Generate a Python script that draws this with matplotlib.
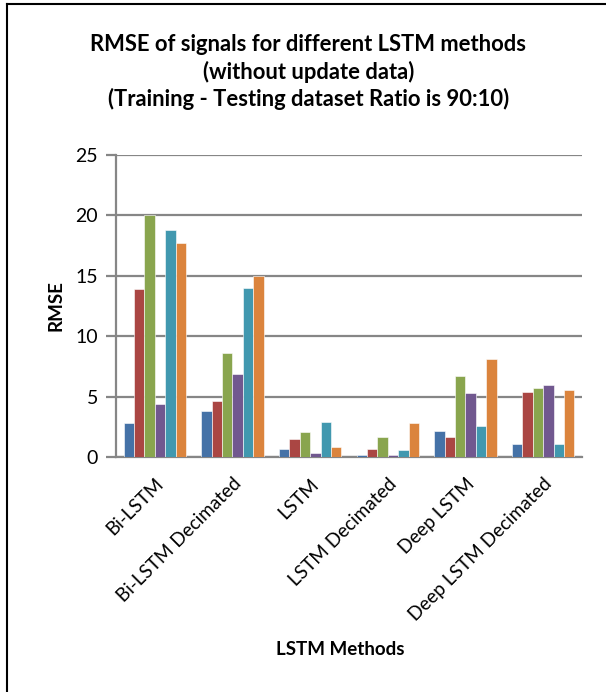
import matplotlib
matplotlib.use("Agg")
import matplotlib.pyplot as plt
import numpy as np
from matplotlib.lines import Line2D

plt.rcParams['font.family'] = ['Lato', 'DejaVu Sans']

categories = ["Bi-LSTM", "Bi-LSTM Decimated", "LSTM", "LSTM Decimated",
              "Deep LSTM", "Deep LSTM Decimated"]
series1 = [2.85, 3.84, 0.69, 0.14, 2.15, 1.06]
series2 = [13.9, 4.61, 1.49, 0.70, 1.62, 5.42]
series3 = [20.0, 8.65, 2.10, 1.67, 6.67, 5.75]
series4 = [4.42, 6.90, 0.33, 0.14, 5.30, 5.97]
series5 = [18.76, 14.0, 2.86, 0.61, 2.57, 1.06]
series6 = [17.73, 14.97, 0.80, 2.82, 8.15, 5.53]
yticks = [0, 5, 10, 15, 20, 25]

all_series = [series1, series2, series3, series4, series5, series6]
colors = ["#4572A7", "#AA4643", "#89A54E", "#71588F", "#4198AF", "#DB843D"]

fig = plt.figure(figsize=(6.06, 6.92), dpi=100)
ax = fig.add_axes([0.1914, 0.3396, 0.769, 0.4364])

n = len(all_series)
x = np.arange(len(categories))
group = 0.8
w = group / n
for i, (vals, c) in enumerate(zip(all_series, colors)):
    ax.bar(x - group / 2 + w * (i + 0.5), vals, width=w, color=c,
           edgecolor="white", linewidth=0.4, zorder=3)

ax.set_xlim(-0.5, len(categories) - 0.5)
ax.set_ylim(0, 25)
ax.set_yticks(yticks)
ax.set_yticklabels([str(t) for t in yticks], fontsize=14)
ax.yaxis.grid(True, color="#868686", linewidth=1.6, zorder=0)
ax.tick_params(axis="y", length=7, width=1.6, color="#868686", pad=6)
ax.tick_params(axis="x", length=0, pad=13)
ax.set_xticks(x)
ax.set_xticklabels(categories, rotation=45, ha="right", rotation_mode="anchor",
                   fontsize=13.6)
for s in ["top", "right"]:
    ax.spines[s].set_visible(False)
ax.spines["left"].set_color("#868686")
ax.spines["left"].set_linewidth(1.6)
ax.spines["bottom"].set_color("#868686")
ax.spines["bottom"].set_linewidth(1.6)

ax.set_ylabel("RMSE", fontsize=13.5, fontweight="bold", labelpad=8)
fig.text(0.561, 0.061, "LSTM Methods", ha="center", va="center",
         fontsize=13.5, fontweight="bold")

fig.text(0.509, 0.935, "RMSE of signals for different LSTM methods",
         ha="center", va="center", fontsize=15.8, fontweight="bold")
fig.text(0.509, 0.896, "(without update data)",
         ha="center", va="center", fontsize=15.8, fontweight="bold")
fig.text(0.509, 0.857, "(Training - Testing dataset Ratio is 90:10)",
         ha="center", va="center", fontsize=15.8, fontweight="bold")

# frame around the chart area
fig.add_artist(Line2D([0.0116, 0.0116], [0.0, 0.9942], color="black",
                      linewidth=1.5, transform=fig.transFigure))
fig.add_artist(Line2D([0.0116, 1.0], [0.9942, 0.9942], color="black",
                      linewidth=1.5, transform=fig.transFigure))

fig.savefig("out.png", dpi=100)
